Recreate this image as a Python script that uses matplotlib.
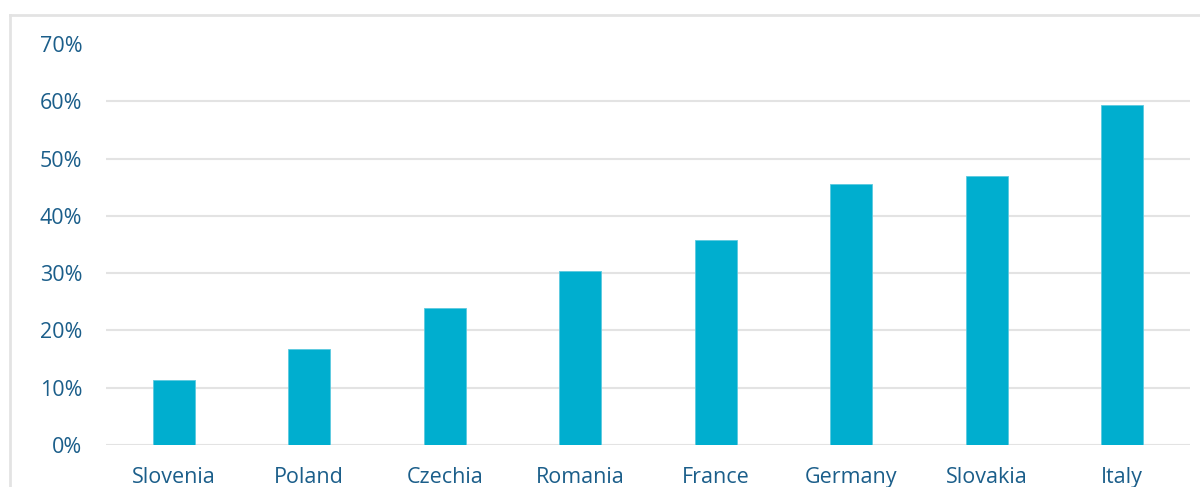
import matplotlib
matplotlib.use("Agg")
import matplotlib.pyplot as plt
from matplotlib.lines import Line2D

countries = ["Slovenia", "Poland", "Czechia", "Romania", "France", "Germany", "Slovakia", "Italy"]
values = [11.4, 16.7, 24.0, 30.4, 35.8, 45.6, 46.9, 59.4]
yticks = [0, 10, 20, 30, 40, 50, 60, 70]
ytick_labels = [f"{v}%" for v in yticks]

plt.rcParams['font.family'] = ['Open Sans', 'DejaVu Sans']
text_color = "#1B5E8A"
bar_color = "#00AECF"
grid_color = "#E3E3E3"

fig = plt.figure(figsize=(12, 4.87), dpi=100)
ax = fig.add_axes([106/1200, 1-445/487, (1190-106)/1200, (445-44)/487])

ax.bar(range(len(countries)), values, width=0.31, color=bar_color,
       edgecolor="#5CC9DF", linewidth=0.6, zorder=3)

ax.set_xlim(-0.5, len(countries) - 0.5)
ax.set_ylim(0, 70)
ax.set_yticks(yticks)
ax.set_yticklabels(ytick_labels)
ax.set_xticks(range(len(countries)))
ax.set_xticklabels(countries)

ax.tick_params(axis='y', length=0, pad=17, labelsize=15.5, labelcolor=text_color)
ax.tick_params(axis='x', length=0, pad=15.5, labelsize=15.5, labelcolor=text_color)

ax.grid(axis='y', color=grid_color, linewidth=1.5, zorder=0)
ax.yaxis.get_gridlines()[-1].set_visible(False)
for s in ax.spines.values():
    s.set_visible(False)

# outer frame (top and left edges visible)
fig.add_artist(Line2D([10/1200, 1], [1-15/487, 1-15/487], color=grid_color, linewidth=2, transform=fig.transFigure))
fig.add_artist(Line2D([10/1200, 10/1200], [0, 1-15/487], color=grid_color, linewidth=2, transform=fig.transFigure))

fig.savefig("out.png", dpi=100)
